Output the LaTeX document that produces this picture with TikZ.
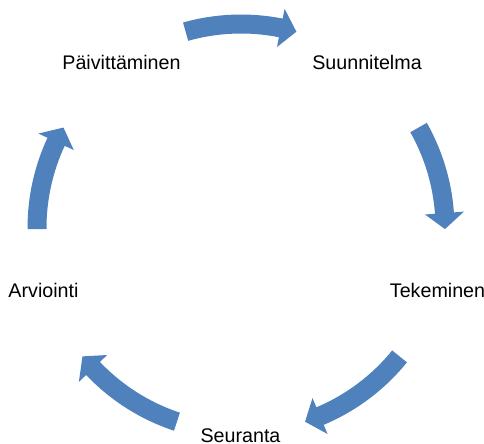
\documentclass[tikz,border=0pt]{standalone}
\usepackage{fontspec}
\setmainfont{Liberation Sans}
\definecolor{cycleblue}{RGB}{79,129,189}
\tikzset{
  stage/.style={anchor=base, inner sep=0pt, font=\fontsize{14}{16}\selectfont},
  cyclearrow/.style={fill=cycleblue, draw=none}
}
\begin{document}
\begin{tikzpicture}[x=0.025cm, y=0.025cm]
  \pgfmathsetmacro{\rMid}{204};
  \pgfmathsetmacro{\rOut}{\rMid + 9.5};
  \pgfmathsetmacro{\rIn}{\rMid - 9.5};
  \pgfmathsetmacro{\rHeadOut}{\rMid + 19.5};
  \pgfmathsetmacro{\rHeadIn}{\rMid - 19.5};
  \useasboundingbox (-241,-215) rectangle (243,228);
  %% Stages of the cycle
  \node[stage] (suunnitelma) at (126,159) {Suunnitelma};
  \node[stage] (tekeminen) at (196.5,-69) {Tekeminen};
  \node[stage] (seuranta) at (-0.5,-214) {Seuranta};
  \node[stage] (arviointi) at (-197.5,-69) {Arviointi};
  \node[stage] (paivittaminen) at (-119.5,159) {Päivittäminen};
  %% Curved arrows, clockwise (tail angle / tip angle)
  \foreach \tailAngle/\tipAngle in {105.75/74.25, 29.5/-0.3, -39/-71.7, -108.3/-141, 180.3/150.5} {
    \pgfmathsetmacro{\headAngle}{\tipAngle + 4.5}
    \fill[cyclearrow] (\tailAngle:\rOut)
      arc[start angle=\tailAngle, end angle=\headAngle, radius=\rOut]
      -- (\headAngle:\rHeadOut) -- (\tipAngle:\rMid) -- (\headAngle:\rHeadIn)
      -- (\headAngle:\rIn)
      arc[start angle=\headAngle, end angle=\tailAngle, radius=\rIn] -- cycle;
  }
\end{tikzpicture}
\end{document}
